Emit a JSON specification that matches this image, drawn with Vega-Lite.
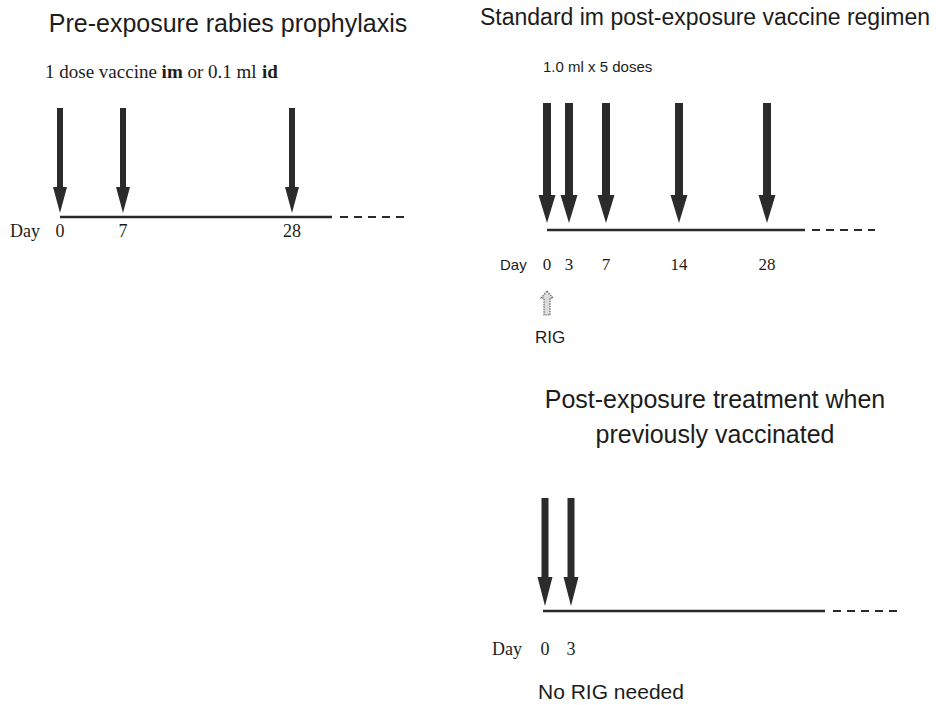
{
  "$schema": "https://vega.github.io/schema/vega-lite/v6.json",
  "width": 936,
  "height": 705,
  "padding": 0,
  "autosize": {"type": "none"},
  "background": "white",
  "config": {"view": {"stroke": null}},
  "datasets": {
    "doses": [
      {"panel": "pre", "day": 0, "x": 60, "y": 213, "ly": 237},
      {"panel": "pre", "day": 7, "x": 123, "y": 213, "ly": 237},
      {"panel": "pre", "day": 28, "x": 292, "y": 213, "ly": 237},
      {"panel": "standard", "day": 0, "x": 547, "y": 223, "ly": 270},
      {"panel": "standard", "day": 3, "x": 569, "y": 223, "ly": 270},
      {"panel": "standard", "day": 7, "x": 606, "y": 223, "ly": 270},
      {"panel": "standard", "day": 14, "x": 679, "y": 223, "ly": 270},
      {"panel": "standard", "day": 28, "x": 767, "y": 223, "ly": 270},
      {"panel": "previous", "day": 0, "x": 545, "y": 606, "ly": 655},
      {"panel": "previous", "day": 3, "x": 571, "y": 606, "ly": 655}
    ],
    "timeline": [
      {"panel": "pre", "x": 60, "x2": 332, "y": 217},
      {"panel": "standard", "x": 547, "x2": 805, "y": 230},
      {"panel": "previous", "x": 543, "x2": 825, "y": 611}
    ],
    "continuation": [
      {"panel": "pre", "x": 340, "x2": 407, "y": 217},
      {"panel": "standard", "x": 812, "x2": 875, "y": 230},
      {"panel": "previous", "x": 833, "x2": 902, "y": 611}
    ],
    "rig": [{"panel": "standard", "day": 0, "x": 547, "y": 291}],
    "titles": [
      {"text": "Pre-exposure rabies prophylaxis", "x": 228, "y": 32},
      {"text": "Post-exposure treatment when", "x": 715, "y": 408},
      {"text": "previously vaccinated", "x": 715, "y": 443}
    ],
    "title2": [{"text": "Standard im post-exposure vaccine regimen", "x": 705, "y": 25}],
    "serifNormal": [
      {"text": "1 dose vaccine", "x": 45, "y": 78},
      {"text": "or 0.1 ml", "x": 187.5, "y": 78}
    ],
    "serifBold": [
      {"text": "im", "x": 161.6, "y": 78},
      {"text": "id", "x": 262, "y": 78}
    ],
    "dayWordSerif": [
      {"text": "Day", "x": 10, "y": 237},
      {"text": "Day", "x": 492, "y": 655}
    ],
    "dayWordSans": [{"text": "Day", "x": 500, "y": 270}],
    "dosesNote": [{"text": "1.0 ml x 5 doses", "x": 543, "y": 72}],
    "rigLabel": [{"text": "RIG", "x": 550, "y": 343}],
    "noRig": [{"text": "No RIG needed", "x": 538, "y": 699}]
  },
  "encoding": {
    "x": {"field": "x", "type": "quantitative", "scale": {"domain": [0, 936], "nice": false, "zero": false}, "axis": null},
    "y": {"field": "y", "type": "quantitative", "scale": {"domain": [0, 705], "nice": false, "zero": false, "reverse": true}, "axis": null}
  },
  "layer": [
    {
      "data": {"name": "timeline"},
      "mark": {"type": "rule", "color": "#2a2a2a", "strokeWidth": 2.5},
      "encoding": {"x2": {"field": "x2"}}
    },
    {
      "data": {"name": "continuation"},
      "mark": {"type": "rule", "color": "#2a2a2a", "strokeWidth": 2, "strokeDash": [8, 6]},
      "encoding": {"x2": {"field": "x2"}}
    },
    {
      "data": {"name": "doses"},
      "transform": [{"filter": "datum.panel === 'pre'"}],
      "mark": {"type": "point", "filled": true, "color": "#2b2b2b", "opacity": 1, "size": 4,
        "shape": "M-3,-105L3,-105L3,-26L7,-26L0,0L-7,-26L-3,-26Z"}
    },
    {
      "data": {"name": "doses"},
      "transform": [{"filter": "datum.panel === 'standard'"}],
      "mark": {"type": "point", "filled": true, "color": "#2b2b2b", "opacity": 1, "size": 4,
        "shape": "M-4,-120L4,-120L4,-28L8.5,-28L0,0L-8.5,-28L-4,-28Z"}
    },
    {
      "data": {"name": "doses"},
      "transform": [{"filter": "datum.panel === 'previous'"}],
      "mark": {"type": "point", "filled": true, "color": "#2b2b2b", "opacity": 1, "size": 4,
        "shape": "M-3.5,-108L3.5,-108L3.5,-29L7.5,-29L0,0L-7.5,-29L-3.5,-29Z"}
    },
    {
      "data": {"name": "rig"},
      "mark": {"type": "point", "filled": true, "fill": "#dcdcdc", "stroke": "#666666", "strokeWidth": 1.2, "strokeDash": [1.5, 1], "opacity": 1, "size": 4,
        "shape": "M0,0L6,7L3,7L3,24L-3,24L-3,7L-6,7Z"}
    },
    {
      "data": {"name": "doses"},
      "transform": [{"filter": "datum.panel !== 'standard'"}],
      "mark": {"type": "text", "font": "Liberation Serif", "fontSize": 18, "color": "#1c1c1c", "align": "center", "baseline": "alphabetic"},
      "encoding": {"y": {"field": "ly", "type": "quantitative"}, "text": {"field": "day"}}
    },
    {
      "data": {"name": "doses"},
      "transform": [{"filter": "datum.panel === 'standard'"}],
      "mark": {"type": "text", "font": "Liberation Serif", "fontSize": 17, "color": "#1c1c1c", "align": "center", "baseline": "alphabetic"},
      "encoding": {"y": {"field": "ly", "type": "quantitative"}, "text": {"field": "day"}}
    },
    {
      "data": {"name": "titles"},
      "mark": {"type": "text", "font": "Liberation Sans", "fontSize": 25, "color": "#1c1c1c", "align": "center", "baseline": "alphabetic"},
      "encoding": {"text": {"field": "text"}}
    },
    {
      "data": {"name": "title2"},
      "mark": {"type": "text", "font": "Liberation Sans", "fontSize": 23, "color": "#1c1c1c", "align": "center", "baseline": "alphabetic"},
      "encoding": {"text": {"field": "text"}}
    },
    {
      "data": {"name": "serifNormal"},
      "mark": {"type": "text", "font": "Liberation Serif", "fontSize": 19, "color": "#1c1c1c", "align": "left", "baseline": "alphabetic"},
      "encoding": {"text": {"field": "text"}}
    },
    {
      "data": {"name": "serifBold"},
      "mark": {"type": "text", "font": "Liberation Serif", "fontSize": 19, "fontWeight": "bold", "color": "#1c1c1c", "align": "left", "baseline": "alphabetic"},
      "encoding": {"text": {"field": "text"}}
    },
    {
      "data": {"name": "dayWordSerif"},
      "mark": {"type": "text", "font": "Liberation Serif", "fontSize": 18, "color": "#1c1c1c", "align": "left", "baseline": "alphabetic"},
      "encoding": {"text": {"field": "text"}}
    },
    {
      "data": {"name": "dayWordSans"},
      "mark": {"type": "text", "font": "Liberation Sans", "fontSize": 15, "color": "#1c1c1c", "align": "left", "baseline": "alphabetic"},
      "encoding": {"text": {"field": "text"}}
    },
    {
      "data": {"name": "dosesNote"},
      "mark": {"type": "text", "font": "Liberation Sans", "fontSize": 15, "color": "#1c1c1c", "align": "left", "baseline": "alphabetic"},
      "encoding": {"text": {"field": "text"}}
    },
    {
      "data": {"name": "rigLabel"},
      "mark": {"type": "text", "font": "Liberation Sans", "fontSize": 17, "color": "#1c1c1c", "align": "center", "baseline": "alphabetic"},
      "encoding": {"text": {"field": "text"}}
    },
    {
      "data": {"name": "noRig"},
      "mark": {"type": "text", "font": "Liberation Sans", "fontSize": 21, "color": "#1c1c1c", "align": "left", "baseline": "alphabetic"},
      "encoding": {"text": {"field": "text"}}
    }
  ]
}
